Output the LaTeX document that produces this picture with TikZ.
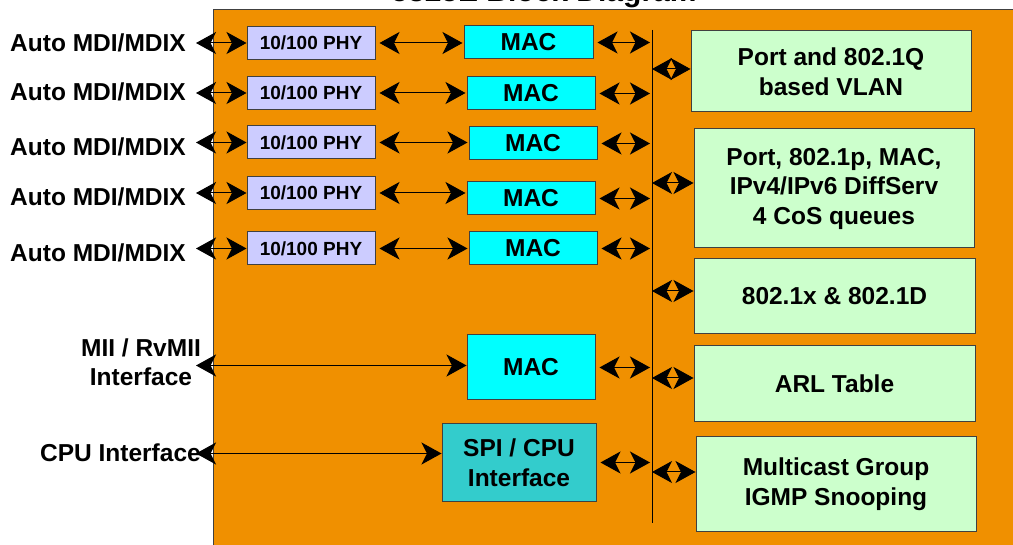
\documentclass[tikz,border=0pt]{standalone}
\usepackage{fontspec}
\setmainfont{Liberation Sans}
\usetikzlibrary{arrows.meta}
\definecolor{chiporange}{HTML}{F09000}
\definecolor{phyfill}{HTML}{CCCCFF}
\definecolor{macfill}{HTML}{00FFFF}
\definecolor{spifill}{HTML}{33CCCC}
\definecolor{grnfill}{HTML}{CCFFCC}
\definecolor{edgegray}{HTML}{404040}
\tikzset{
  box/.style={draw=edgegray, line width=1pt, inner sep=0pt, align=center, font=\bfseries\fontsize{24.5}{29.5}\selectfont},
  phybox/.style={box, fill=phyfill, minimum width=128pt, minimum height=33pt, font=\bfseries\fontsize{19}{23}\selectfont},
  macbox/.style={box, fill=macfill, minimum width=128pt, minimum height=33pt},
  grnbox/.style={box, fill=grnfill, minimum width=280pt},
  lbl/.style={inner sep=0pt, align=center, font=\bfseries\fontsize{24.5}{29.5}\selectfont},
  biarr/.style={line width=1pt, {Stealth[length=20pt,width=22pt,inset=5.5pt]}-{Stealth[length=20pt,width=22pt,inset=5.5pt]}},
  busline/.style={line width=1pt}
}
\begin{document}
\begin{tikzpicture}[x=1pt,y=-1pt]
\useasboundingbox (0,0) rectangle (1013,545);
\clip (0,0) rectangle (1013,545);
% chip body
\draw[fill=chiporange, draw=edgegray, line width=1pt] (213,9.5) rectangle (1030,560);
% title (cut off at the top in the reference)
\node[anchor=base, inner sep=0pt, font=\bfseries\fontsize{30}{36}\selectfont] (title) at (544,1.5) {5325E Block Diagram};

% PHY boxes
\node[phybox] (phy1) at (311,43) {10/100 PHY};
\node[phybox] (phy2) at (311,93) {10/100 PHY};
\node[phybox] (phy3) at (311,142.5) {10/100 PHY};
\node[phybox] (phy4) at (311,193) {10/100 PHY};
\node[phybox] (phy5) at (311,248.5) {10/100 PHY};

% MAC boxes
\node[macbox, minimum width=129pt] (mac1) at (528.5,42.5) {MAC};
\node[macbox] (mac2) at (531,93.5) {MAC};
\node[macbox] (mac3) at (533,143.5) {MAC};
\node[macbox] (mac4) at (531,198.5) {MAC};
\node[macbox] (mac5) at (533,248.5) {MAC};
\node[macbox, minimum height=65pt] (mac6) at (531,367.5) {MAC};
\node[box, fill=spifill, minimum width=154pt, minimum height=77pt] (spi) at (519,462.5) {SPI / CPU\\Interface};

% green function boxes
\node[grnbox, minimum height=81pt] (g1) at (831,71.5) {Port and 802.1Q\\based VLAN};
\node[grnbox, minimum height=119pt] (g2) at (834,188.5) {Port, 802.1p, MAC,\\IPv4/IPv6 DiffServ\\4 CoS queues};
\node[grnbox, minimum width=281pt, minimum height=75pt] (g3) at (834.5,296.5) {802.1x \& 802.1D};
\node[grnbox, minimum width=281pt, minimum height=76pt] (g4) at (834.5,384) {ARL Table};
\node[grnbox, minimum height=94pt] (g5) at (836,484) {Multicast Group\\IGMP Snooping};

% left labels
\node[lbl, anchor=east] (l1) at (186,43) {Auto MDI/MDIX};
\node[lbl, anchor=east] (l2) at (186,92) {Auto MDI/MDIX};
\node[lbl, anchor=east] (l3) at (186,147) {Auto MDI/MDIX};
\node[lbl, anchor=east] (l4) at (186,197) {Auto MDI/MDIX};
\node[lbl, anchor=east] (l5) at (186,253) {Auto MDI/MDIX};
\node[lbl] (lmii) at (141,362) {MII / RvMII\\Interface};
\node[lbl, anchor=east] (lcpu) at (201,453) {CPU Interface};

% free ends of external connectors
\coordinate (e1) at (196,43);
\coordinate (e2) at (196,93);
\coordinate (e3) at (196,142.5);
\coordinate (e4) at (196,193);
\coordinate (e5) at (196,248.5);
\coordinate (emii) at (196,365.5);
\coordinate (ecpu) at (196,453.5);

% bus
\coordinate (bustop) at (652,30);
\coordinate (busbot) at (652,523);
\draw[busline] (bustop) -- (busbot);

% external arrows
\foreach \i in {1,...,5} {
  \draw[biarr] (e\i) -- (e\i -| phy\i.west);
}
\draw[biarr] (emii) -- (emii -| mac6.west);
\draw[biarr] (ecpu) -- (ecpu -| spi.west);

% PHY - MAC arrows
\foreach \i in {1,...,5} {
  \draw[biarr] ([xshift=4pt]phy\i.east) -- ([xshift=-1pt]phy\i.east -| mac\i.west);
}

% MAC - bus arrows
\foreach \i in {1,...,6} {
  \draw[biarr] ([xshift=4pt]mac\i.east) -- ([xshift=-2pt]mac\i.east -| bustop);
}
\draw[biarr] ([xshift=4pt]spi.east) -- ([xshift=-2pt]spi.east -| bustop);

% bus - function box arrows
\coordinate (b1) at (652,69);
\coordinate (b2) at (652,183);
\coordinate (b3) at (652,291);
\coordinate (b4) at (652,378);
\coordinate (b5) at (652,472);
\foreach \i in {1,...,5} {
  \draw[biarr] (b\i) -- (b\i -| g\i.west);
}
\end{tikzpicture}
\end{document}
